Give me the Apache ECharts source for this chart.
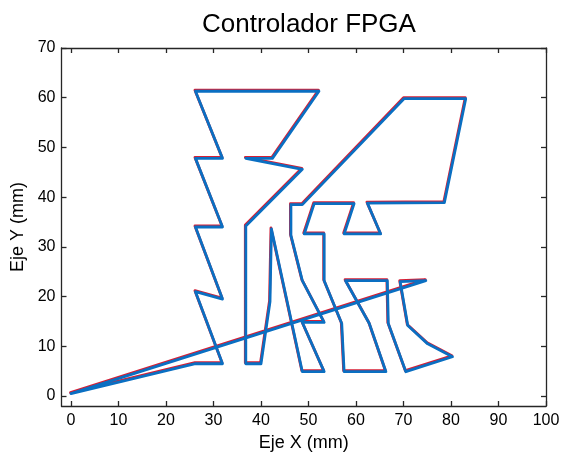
<!DOCTYPE html>
<html>
<head>
<meta charset="utf-8">
<script src="https://cdn.jsdelivr.net/npm/echarts@6/dist/echarts.min.js"></script>
<style>
html,body{margin:0;padding:0;background:#fff;}
#chart{width:566px;height:457px;}
</style>
</head>
<body>
<div id="chart"></div>
<script>
// Path traced by the controller (mm)
var pathX = [0, 74.7, 69.3, 70.9, 75.1, 80.3, 70.5, 66.8, 66.6, 57.8, 62.8, 66.3, 57.5, 57.0, 53.3, 53.3, 49.1, 51.2, 59.6, 57.5, 65.2, 62.4, 78.6, 83.1, 70.1, 48.7, 46.3, 46.3, 48.7, 53.3, 48.7, 53.3, 48.7, 42.2, 41.9, 40.0, 36.8, 36.8, 48.7, 36.8, 42.4, 52.2, 26.2, 31.9, 26.2, 31.9, 26.2, 31.9, 26.2, 31.9, 26.2, 0];
var pathY = [0.5, 23.2, 23.0, 14.2, 10.5, 7.9, 4.9, 14.6, 23.2, 23.2, 14.6, 4.9, 4.9, 14.6, 23.2, 32.6, 32.6, 38.7, 38.7, 32.6, 32.6, 38.8, 38.9, 59.8, 59.8, 38.5, 38.5, 32.3, 23.2, 14.8, 14.8, 4.9, 4.9, 33.6, 19.0, 6.5, 6.5, 34.2, 45.6, 47.8, 47.8, 61.3, 61.3, 47.8, 47.8, 34.0, 34.0, 19.5, 21.0, 6.5, 6.5, 0.5];
var xTicks = [0, 10, 20, 30, 40, 50, 60, 70, 80, 90, 100];
var yTicks = [0, 10, 20, 30, 40, 50, 60, 70];

var pts = pathX.map(function (x, i) { return [x, pathY[i]]; });

var axisCol = '#262626';
var font = 'Liberation Sans, Arial, sans-serif';

function baseX(extra) {
  return Object.assign({
    type: 'value', min: -2, max: 100,
    splitLine: {show: false},
    axisLine: {show: true, onZero: false, lineStyle: {color: axisCol, width: 1.3}},
    axisTick: {show: true, inside: true, length: 5, customValues: xTicks, lineStyle: {color: axisCol, width: 1.3}},
    axisLabel: {show: false}
  }, extra);
}
function baseY(extra) {
  return Object.assign({
    type: 'value', min: -2, max: 70,
    splitLine: {show: false},
    axisLine: {show: true, onZero: false, lineStyle: {color: axisCol, width: 1.3}},
    axisTick: {show: true, inside: true, length: 5, customValues: yTicks, lineStyle: {color: axisCol, width: 1.3}},
    axisLabel: {show: false}
  }, extra);
}

var chart = echarts.init(document.getElementById('chart'), null, {renderer: 'canvas'});
chart.setOption({
  animation: false,
  backgroundColor: '#ffffff',
  title: {
    text: 'Controlador FPGA',
    left: 304, top: 7, textAlign: 'center',
    textStyle: {fontFamily: font, fontSize: 26, fontWeight: 'normal', color: '#000'}
  },
  grid: [
    {left: 61.5, top: 48, right: 20, bottom: 51, containLabel: false},
    {left: 61, top: 47, right: 20.5, bottom: 52, containLabel: false}
  ],
  xAxis: [
    baseX({gridIndex: 0, position: 'bottom',
      name: 'Eje X (mm)', nameLocation: 'middle', nameGap: 27,
      nameTextStyle: {fontFamily: font, fontSize: 18, color: '#000'},
      axisLabel: {show: true, customValues: xTicks, margin: 7, fontFamily: font, fontSize: 16, color: '#000'}}),
    baseX({gridIndex: 0, position: 'top'}),
    baseX({gridIndex: 1, show: false})
  ],
  yAxis: [
    baseY({gridIndex: 0, position: 'left',
      name: 'Eje Y (mm)', nameLocation: 'middle', nameGap: 34,
      nameTextStyle: {fontFamily: font, fontSize: 18, color: '#000'},
      axisLabel: {show: true, customValues: yTicks, margin: 6, fontFamily: font, fontSize: 16, color: '#000'}}),
    baseY({gridIndex: 0, position: 'right'}),
    baseY({gridIndex: 1, show: false})
  ],
  series: [
    {
      name: 'Referencia', type: 'line', xAxisIndex: 2, yAxisIndex: 2,
      data: pts, symbol: 'none', smooth: false,
      lineStyle: {color: '#d61f35', width: 2.8, join: 'round', cap: 'round'}
    },
    {
      name: 'Medida', type: 'line', xAxisIndex: 0, yAxisIndex: 0,
      data: pts, symbol: 'none', smooth: false,
      lineStyle: {color: '#0a6fc2', width: 2.8, join: 'round', cap: 'round'}
    }
  ]
});
</script>
</body>
</html>
